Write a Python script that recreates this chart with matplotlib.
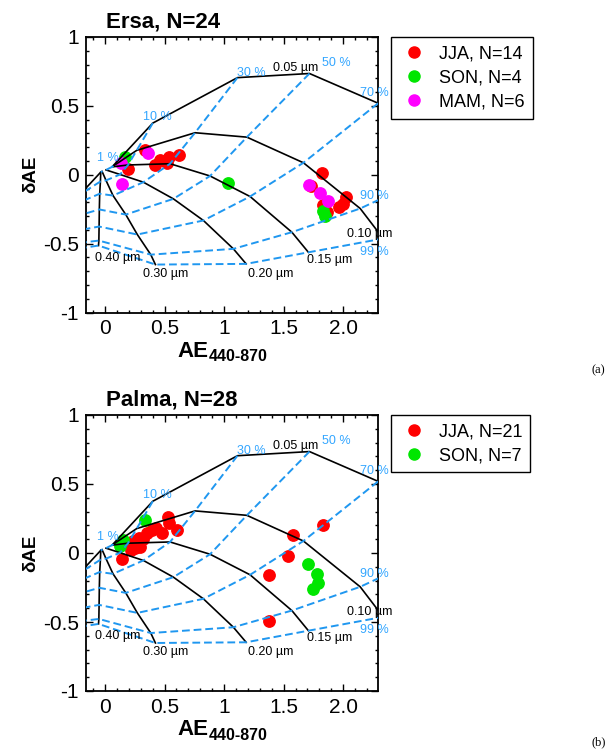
import matplotlib
matplotlib.use("Agg")
import matplotlib.pyplot as plt
from matplotlib.ticker import MultipleLocator
from matplotlib.lines import Line2D
import numpy as np

plt.rcParams["font.family"] = ["Liberation Sans", "DejaVu Sans"]

# ---- Gobbi framework grid (rows: fine-mode radius, cols: fine-mode fraction)
RADIUS_LABELS = ["0.05 µm", "0.10 µm", "0.15 µm", "0.20 µm", "0.30 µm", "0.40 µm", ""]
FRACTION_LABELS = ["1 %", "10 %", "30 %", "50 %", "70 %", "90 %", "99 %"]

AE_GRID = np.array([
    [0.059, 0.401, 1.112, 1.717, 2.294, 2.75, 2.80],
    [0.063, 0.266, 0.756, 1.191, 1.666, 2.143, 2.336],
    [0.059, 0.193, 0.546, 0.882, 1.218, 1.569, 1.708],
    [0.008, 0.126, 0.322, 0.574, 0.826, 1.078, 1.185],
    [-0.025, 0.008, 0.067, 0.174, 0.271, 0.384, 0.423],
    [-0.036, -0.039, -0.045, -0.048, -0.050, -0.052, -0.055],
    [-0.036, -0.21, -0.277, -0.311, -0.328, -0.336, -0.336],
])
DAE_GRID = np.array([
    [0.057, 0.375, 0.705, 0.735, 0.519, 0.0, -0.30],
    [0.060, 0.177, 0.305, 0.273, 0.087, -0.245, -0.463],
    [0.057, 0.071, 0.080, -0.009, -0.158, -0.417, -0.563],
    [0.035, 0.002, -0.054, -0.175, -0.332, -0.538, -0.647],
    [0.024, -0.041, -0.151, -0.289, -0.434, -0.580, -0.652],
    [0.019, -0.049, -0.138, -0.252, -0.376, -0.478, -0.514],
    [0.019, -0.143, -0.223, -0.318, -0.420, -0.507, -0.551],
])

# label anchor positions (AE, dAE)
RADIUS_LABEL_POS = [(1.412, 0.773), (2.034, -0.427), (1.697, -0.616),
                    (1.202, -0.718), (0.319, -0.718), (-0.084, -0.601)]
FRACTION_LABEL_POS = [(-0.067, 0.119), (0.319, 0.417), (1.109, 0.741),
                      (1.824, 0.809), (2.143, 0.591), (2.143, -0.151), (2.143, -0.558)]

# ---- Ersa
ERSA_JJA_AE = [0.196, 0.336, 0.420, 0.462, 0.524, 0.540, 0.624,
               1.821, 1.729, 1.834, 1.866, 1.961, 2.025, 2.000]
ERSA_JJA_DAE = [0.044, 0.177, 0.068, 0.104, 0.084, 0.128, 0.140,
                0.012, -0.085, -0.223, -0.267, -0.236, -0.163, -0.209]
ERSA_SON_AE = [0.168, 1.036, 1.829, 1.849]
ERSA_SON_DAE = [0.128, -0.061, -0.260, -0.296]
ERSA_MAM_AE = [0.132, 0.359, 0.140, 1.717, 1.807, 1.876]
ERSA_MAM_DAE = [0.084, 0.157, -0.065, -0.071, -0.134, -0.187]

# ---- Palma
PALMA_JJA_AE = [0.527, 0.540, 0.608, 0.476, 0.392, 0.350, 0.288, 0.266, 0.252,
                0.140, 0.429, 0.319, 0.218, 0.193, 0.294, 0.235,
                1.582, 1.829, 1.540, 1.378, 1.378]
PALMA_JJA_DAE = [0.264, 0.220, 0.167, 0.148, 0.167, 0.143, 0.111, 0.075, 0.039,
                 -0.046, 0.178, 0.102, 0.022, 0.065, 0.044, 0.087,
                 0.129, 0.201, -0.022, -0.162, -0.494]
PALMA_SON_AE = [0.336, 0.154, 0.126, 1.708, 1.779, 1.792, 1.750]
PALMA_SON_DAE = [0.240, 0.095, 0.051, -0.082, -0.155, -0.216, -0.264]

BLUE = "#1f97f0"
BLUE_TXT = "#33a6ff"
C_JJA, C_SON, C_MAM = "#ff0000", "#00e600", "#ff00ff"
W, H = 611, 755


def draw_grid(ax):
    for i in range(AE_GRID.shape[0]):
        ax.plot(AE_GRID[i], DAE_GRID[i], color="black", lw=1.2, zorder=3)
    for j in range(AE_GRID.shape[1]):
        ax.plot(AE_GRID[:, j], DAE_GRID[:, j], color=BLUE, lw=1.4,
                dashes=(4, 2), zorder=3)
    for lab, (x, y) in zip(RADIUS_LABELS, RADIUS_LABEL_POS):
        ax.text(x, y, lab, fontsize=9, color="black", ha="left", va="center",
                clip_on=False, zorder=4)
    for lab, (x, y) in zip(FRACTION_LABELS, FRACTION_LABEL_POS):
        ax.text(x, y, lab, fontsize=9, color=BLUE_TXT, ha="left", va="center",
                clip_on=False, zorder=4)


def style_axes(ax):
    ax.set_xlim(-0.16, 2.29)
    ax.set_ylim(-1, 1)
    ax.set_xticks([0, 0.5, 1, 1.5, 2.0])
    ax.set_xticklabels(["0", "0.5", "1", "1.5", "2.0"])
    ax.set_yticks([-1, -0.5, 0, 0.5, 1])
    ax.set_yticklabels(["-1", "-0.5", "0", "0.5", "1"])
    ax.xaxis.set_minor_locator(MultipleLocator(0.1))
    ax.yaxis.set_minor_locator(MultipleLocator(0.1))
    ax.tick_params(which="both", direction="in", top=True, right=True,
                   labelsize=15, width=1.0)
    ax.tick_params(which="major", length=5, pad=5)
    ax.tick_params(which="minor", length=2.5)
    for s in ax.spines.values():
        s.set_linewidth(1.3)
    ax.set_ylabel("δAE", fontsize=13.5, fontweight="bold", labelpad=3)
    ax.text(0.42, -0.14, "AE", transform=ax.transAxes, fontsize=16,
            fontweight="bold", ha="right", va="center")
    ax.text(0.42, -0.16, "440-870", transform=ax.transAxes, fontsize=11.5,
            fontweight="bold", ha="left", va="center")


def make_legend(ax, handles, top_px):
    ax.legend(handles=handles, loc="upper left",
              bbox_to_anchor=(391 / W, 1 - top_px / H),
              bbox_transform=ax.figure.transFigure,
              fontsize=13, frameon=True, fancybox=False, edgecolor="black",
              framealpha=1, handletextpad=0.6, handlelength=1.6,
              borderpad=0.45, labelspacing=0.4, borderaxespad=0)
    ax.get_legend().get_frame().set_linewidth(1.0)


def dot(color, label):
    return Line2D([], [], ls="none", marker="o", ms=8, color=color, label=label)


fig = plt.figure(figsize=(W / 100, H / 100), dpi=100)
ax1 = fig.add_axes([86 / W, 1 - 312.5 / H, 291.7 / W, 275.5 / H])
ax2 = fig.add_axes([86 / W, 1 - 691 / H, 291.7 / W, 276 / H])

# top panel: Ersa
ms = 8.2
ax1.plot(ERSA_JJA_AE, ERSA_JJA_DAE, "o", color=C_JJA, ms=ms, zorder=2)
ax1.plot(ERSA_SON_AE, ERSA_SON_DAE, "o", color=C_SON, ms=ms, zorder=2)
ax1.plot(ERSA_MAM_AE, ERSA_MAM_DAE, "o", color=C_MAM, ms=ms, zorder=2)
draw_grid(ax1)
style_axes(ax1)
make_legend(ax1, [dot(C_JJA, "JJA, N=14"), dot(C_SON, "SON, N=4"),
                  dot(C_MAM, "MAM, N=6")], 37)
fig.text(106 / W, 1 - 22 / H, "Ersa, N=24", fontsize=16, fontweight="bold",
         ha="left", va="center")
fig.text(592 / W, 1 - 370 / H, "(a)", fontsize=9, family="Liberation Serif",
         ha="left", va="center")

# bottom panel: Palma
ax2.plot(PALMA_JJA_AE, PALMA_JJA_DAE, "o", color=C_JJA, ms=ms, zorder=2)
ax2.plot(PALMA_SON_AE, PALMA_SON_DAE, "o", color=C_SON, ms=ms, zorder=2)
draw_grid(ax2)
style_axes(ax2)
make_legend(ax2, [dot(C_JJA, "JJA, N=21"), dot(C_SON, "SON, N=7")], 415)
fig.text(106 / W, 1 - 400 / H, "Palma, N=28", fontsize=16, fontweight="bold",
         ha="left", va="center")
fig.text(592 / W, 1 - 742 / H, "(b)", fontsize=9, family="Liberation Serif",
         ha="left", va="center")

fig.savefig("out.png", dpi=100)
